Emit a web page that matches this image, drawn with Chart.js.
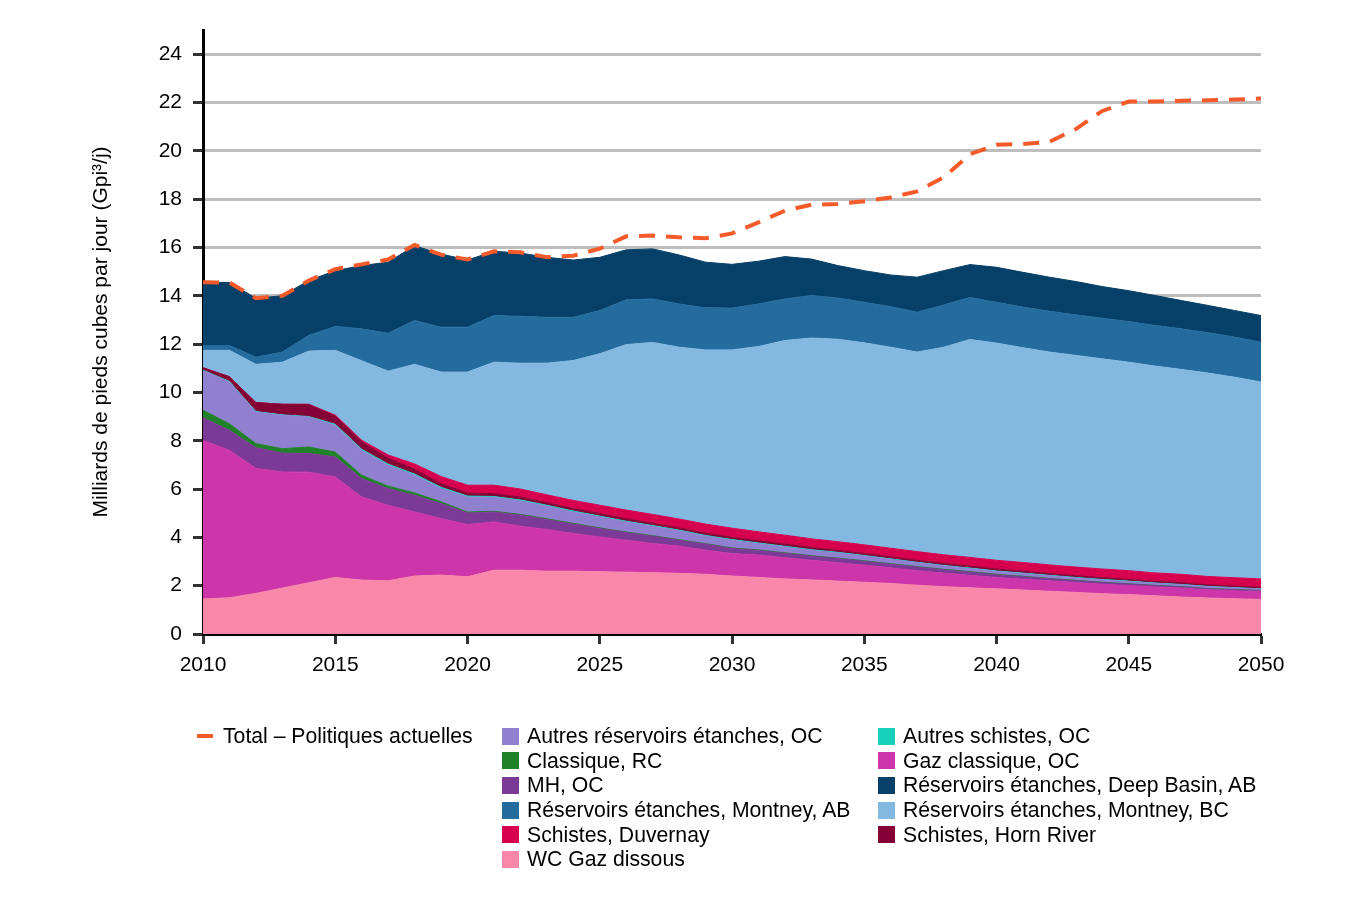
<!DOCTYPE html>
<html lang="fr">
<head>
<meta charset="utf-8">
<script src="https://cdn.jsdelivr.net/npm/chart.js@4.4.1/dist/chart.umd.min.js"></script>
<style>
  html, body { margin: 0; padding: 0; background: #fff; }
  #wrap { position: relative; width: 1350px; height: 900px; font-family: "Liberation Sans", Arial, sans-serif; }
  #wrap canvas { position: absolute; left: 0; top: 0; }
  .lg { position: absolute; font-size: 21.2px; color: #000; white-space: nowrap; line-height: 24px; }
  .sw { position: absolute; width: 17px; height: 17px; }
  .dash { position: absolute; width: 16px; height: 4px; background: #F55B2A; }
</style>
</head>
<body>
<div id="wrap">
  <canvas id="c" width="1350" height="900"></canvas>
  <div id="legend"></div>
</div>
<script>
// ---- Data (Gpi³/j) ----
const years = [2010,2011,2012,2013,2014,2015,2016,2017,2018,2019,2020,2021,2022,2023,2024,2025,2026,2027,2028,2029,2030,2031,2032,2033,2034,2035,2036,2037,2038,2039,2040,2041,2042,2043,2044,2045,2046,2047,2048,2049,2050];
const xTickStep = 5;
const yTickStep = 2;
const yTickMax = 24;

const wcGazDissous = [1.45,1.50,1.68,1.90,2.12,2.34,2.23,2.20,2.40,2.44,2.37,2.64,2.64,2.60,2.60,2.58,2.56,2.54,2.51,2.47,2.40,2.34,2.28,2.24,2.19,2.14,2.09,2.02,1.96,1.91,1.87,1.82,1.77,1.72,1.67,1.63,1.58,1.53,1.49,1.46,1.43];
const gazClassiqueOC = [6.57,6.10,5.17,4.81,4.58,4.16,3.44,3.13,2.65,2.34,2.16,2.00,1.82,1.73,1.56,1.44,1.32,1.21,1.13,1.00,0.93,0.93,0.88,0.81,0.76,0.71,0.65,0.60,0.56,0.52,0.47,0.45,0.43,0.41,0.39,0.38,0.37,0.37,0.34,0.33,0.33];
const mhOC = [0.93,0.83,0.86,0.78,0.77,0.83,0.76,0.69,0.69,0.62,0.48,0.41,0.46,0.41,0.39,0.35,0.32,0.30,0.24,0.25,0.21,0.19,0.18,0.17,0.17,0.16,0.15,0.15,0.14,0.13,0.11,0.10,0.09,0.08,0.07,0.06,0.05,0.05,0.04,0.04,0.03];
const classiqueRC = [0.31,0.27,0.17,0.18,0.27,0.20,0.14,0.10,0.10,0.07,0.04,0.03,0.03,0.03,0.03,0.02,0.02,0.02,0.02,0.02,0.02,0.02,0.02,0.02,0.02,0.02,0.02,0.02,0.02,0.02,0.02,0.02,0.01,0.01,0.01,0.01,0.01,0.01,0.01,0.01,0.01];
const autresReservoirsOC = [1.64,1.73,1.31,1.38,1.24,1.11,1.03,0.86,0.73,0.55,0.62,0.57,0.56,0.52,0.47,0.46,0.42,0.39,0.37,0.31,0.32,0.26,0.24,0.22,0.21,0.20,0.18,0.16,0.14,0.13,0.12,0.11,0.11,0.10,0.10,0.09,0.09,0.08,0.08,0.07,0.06];
const autresSchistesOC = [0.02,0.02,0.02,0.02,0.02,0.04,0.05,0.05,0.05,0.05,0.04,0.04,0.04,0.04,0.04,0.03,0.03,0.03,0.03,0.03,0.03,0.03,0.03,0.03,0.03,0.02,0.02,0.02,0.02,0.02,0.02,0.02,0.02,0.02,0.02,0.02,0.01,0.01,0.01,0.01,0.01];
const schistesHornRiver = [0.10,0.20,0.37,0.44,0.50,0.34,0.30,0.25,0.20,0.15,0.12,0.12,0.12,0.10,0.10,0.10,0.10,0.09,0.09,0.09,0.09,0.09,0.09,0.09,0.08,0.08,0.08,0.08,0.08,0.08,0.08,0.08,0.07,0.07,0.07,0.07,0.07,0.07,0.06,0.06,0.06];
const schistesDuvernay = [0,0,0,0,0.01,0.04,0.07,0.13,0.22,0.30,0.33,0.35,0.33,0.33,0.34,0.35,0.36,0.37,0.37,0.38,0.38,0.37,0.37,0.36,0.36,0.36,0.36,0.36,0.36,0.36,0.36,0.36,0.36,0.36,0.36,0.36,0.35,0.35,0.35,0.35,0.35];
const montneyBC = [0.72,1.09,1.58,1.74,2.20,2.68,3.29,3.47,4.12,4.32,4.68,5.09,5.21,5.45,5.79,6.27,6.85,7.12,7.11,7.21,7.38,7.67,8.06,8.31,8.38,8.36,8.32,8.26,8.59,9.02,8.99,8.89,8.81,8.76,8.70,8.63,8.56,8.48,8.42,8.30,8.15];
const montneyAB = [0.20,0.20,0.30,0.42,0.65,0.99,1.32,1.57,1.82,1.86,1.86,1.93,1.94,1.90,1.79,1.79,1.85,1.80,1.79,1.74,1.73,1.76,1.72,1.76,1.71,1.68,1.68,1.65,1.75,1.74,1.69,1.68,1.69,1.68,1.68,1.68,1.68,1.68,1.67,1.66,1.65];
const deepBasinAB = [2.62,2.61,2.44,2.33,2.27,2.31,2.62,2.94,3.09,3.03,2.78,2.66,2.62,2.48,2.37,2.20,2.07,2.07,2.03,1.89,1.81,1.77,1.75,1.51,1.34,1.31,1.31,1.45,1.42,1.36,1.45,1.44,1.41,1.38,1.31,1.28,1.24,1.17,1.13,1.10,1.10];
const totalPolitiquesActuelles = [14.56,14.55,13.90,14.00,14.63,15.10,15.30,15.50,16.10,15.70,15.50,15.84,15.80,15.60,15.66,15.95,16.46,16.49,16.42,16.38,16.58,17.04,17.52,17.77,17.80,17.91,18.07,18.32,18.90,19.86,20.25,20.28,20.37,20.90,21.65,22.04,22.04,22.07,22.09,22.12,22.16];

// stacking order bottom -> top
const areaSeries = [
  { label: 'WC Gaz dissous', data: wcGazDissous, color: '#F987AA' },
  { label: 'Gaz classique, OC', data: gazClassiqueOC, color: '#CC36AA' },
  { label: 'MH, OC', data: mhOC, color: '#7B3A96' },
  { label: 'Classique, RC', data: classiqueRC, color: '#1F8229' },
  { label: 'Autres réservoirs étanches, OC', data: autresReservoirsOC, color: '#9080D0' },
  { label: 'Autres schistes, OC', data: autresSchistesOC, color: '#17D1BD' },
  { label: 'Schistes, Horn River', data: schistesHornRiver, color: '#850035' },
  { label: 'Schistes, Duvernay', data: schistesDuvernay, color: '#D6004F' },
  { label: 'Réservoirs étanches, Montney, BC', data: montneyBC, color: '#83B8E1' },
  { label: 'Réservoirs étanches, Montney, AB', data: montneyAB, color: '#256C9E' },
  { label: 'Réservoirs étanches, Deep Basin, AB', data: deepBasinAB, color: '#063F67' }
];
const totalLabel = 'Total – Politiques actuelles';
const totalColor = '#F55B2A';

const toXY = arr => years.map((yr, i) => ({ x: yr, y: arr[i] }));

const datasets = areaSeries.map((s, i) => ({
  label: s.label,
  data: toXY(s.data),
  backgroundColor: s.color,
  borderColor: s.color,
  borderWidth: 1,
  pointRadius: 0,
  tension: 0,
  fill: i === 0 ? 'origin' : '-1',
  stack: 'areas'
}));
datasets.push({
  label: totalLabel,
  data: toXY(totalPolitiquesActuelles),
  borderColor: totalColor,
  backgroundColor: totalColor,
  borderWidth: 4,
  borderDash: [16, 11],
  pointRadius: 0,
  tension: 0,
  fill: false,
  stack: 'total',
  order: -1
});

const FONT = '"Liberation Sans", Arial, sans-serif';

new Chart(document.getElementById('c'), {
  type: 'line',
  data: { datasets },
  options: {
    responsive: false,
    animation: false,
    devicePixelRatio: 1,
    layout: { padding: { left: 88, top: 30, right: 89, bottom: 0 } },
    plugins: { legend: { display: false }, tooltip: { enabled: false } },
    scales: {
      x: {
        type: 'linear',
        min: years[0],
        max: years[years.length - 1],
        ticks: {
          stepSize: xTickStep,
          color: '#000',
          font: { family: FONT, size: 21 },
          padding: 9,
          maxRotation: 0,
          callback: v => String(v)
        },
        grid: { drawOnChartArea: false, drawTicks: true, tickLength: 10, tickColor: '#333', tickWidth: 3 },
        border: { display: true, color: '#000', width: 3 },
        afterFit: s => { s.height = 266; s.paddingLeft = 0; s.paddingRight = 0; }
      },
      y: {
        stacked: true,
        min: 0,
        max: 25,
        ticks: {
          stepSize: yTickStep,
          color: '#000',
          font: { family: FONT, size: 21 },
          padding: 11
        },
        afterBuildTicks: s => {
          const t = [];
          for (let v = 0; v <= yTickMax; v += yTickStep) t.push({ value: v });
          s.ticks = t;
        },
        grid: {
          color: c => (c.tick && c.tick.value === 0) ? 'rgba(0,0,0,0)' : '#BEBEBE',
          lineWidth: 3,
          drawTicks: true,
          tickLength: 10,
          tickColor: '#333',
          tickWidth: 3
        },
        border: { display: true, color: '#000', width: 3 },
        title: {
          display: true,
          text: 'Milliards de pieds cubes par jour (Gpi³/j)',
          color: '#000',
          font: { family: FONT, size: 21 },
          padding: { top: 1, bottom: 0 }
        },
        afterFit: s => { s.width = 115; s.paddingTop = 0; s.paddingBottom = 0; }
      }
    }
  }
});

// ---- Legend (HTML, column-major like the reference) ----
const legend = document.getElementById('legend');
const rowY = [736, 760.5, 785, 810, 834.5, 859];
function addItem(x, y, label, color, isDash) {
  const sw = document.createElement('div');
  if (isDash) { sw.className = 'dash'; sw.style.left = x + 'px'; sw.style.top = (y - 2) + 'px'; }
  else { sw.className = 'sw'; sw.style.left = x + 'px'; sw.style.top = (y - 8.5) + 'px'; sw.style.background = color; }
  legend.appendChild(sw);
  const t = document.createElement('div');
  t.className = 'lg';
  t.textContent = label;
  t.style.left = (x + (isDash ? 26 : 25)) + 'px';
  t.style.top = (y - 12) + 'px';
  legend.appendChild(t);
}
addItem(197, rowY[0], totalLabel, totalColor, true);
const byName = {};
areaSeries.forEach(s => byName[s.label] = s.color);
const col2 = ['Autres réservoirs étanches, OC','Classique, RC','MH, OC','Réservoirs étanches, Montney, AB','Schistes, Duvernay','WC Gaz dissous'];
const col3 = ['Autres schistes, OC','Gaz classique, OC','Réservoirs étanches, Deep Basin, AB','Réservoirs étanches, Montney, BC','Schistes, Horn River'];
col2.forEach((n, i) => addItem(502, rowY[i], n, byName[n], false));
col3.forEach((n, i) => addItem(878, rowY[i], n, byName[n], false));
</script>
</body>
</html>
